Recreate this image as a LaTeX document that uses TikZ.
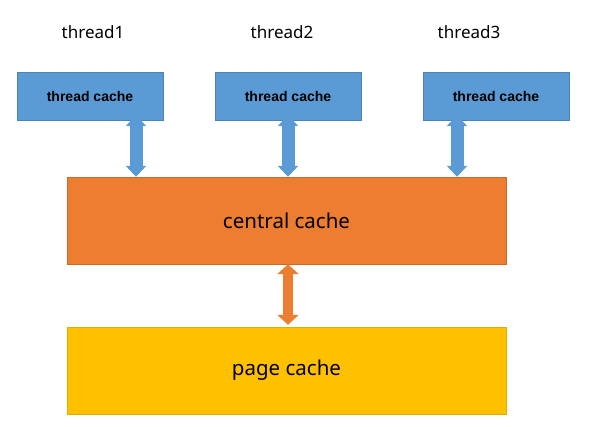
\documentclass[tikz,border=0pt]{standalone}
\usepackage{fontspec}
\setmainfont{Noto Sans}
\newfontfamily\boxfont{Liberation Sans}
\usetikzlibrary{arrows.meta}
\definecolor{tcblue}{HTML}{5B9BD5}
\definecolor{ccorange}{HTML}{ED7D31}
\definecolor{pcyellow}{HTML}{FFC000}

\begin{document}
\begin{tikzpicture}[x=1pt, y=-1pt,
    tcbox/.style={fill=tcblue, draw=tcblue!85!black, line width=0.4pt,
      minimum width=146pt, minimum height=48pt, inner sep=0pt,
      font=\boxfont\bfseries\fontsize{14}{16}\selectfont},
    bigbox/.style={line width=0.4pt, minimum width=439pt, minimum height=87pt,
      inner sep=0pt, font=\fontsize{20.5}{24}\selectfont},
    threadlabel/.style={font=\fontsize{17}{20}\selectfont},
    tcarrow/.style={line width=13pt, tcblue,
      {Triangle[width=20pt,length=11pt]}-{Triangle[width=20pt,length=11pt]}},
    ccarrow/.style={line width=10pt, ccorange,
      {Triangle[width=21pt,length=10pt]}-{Triangle[width=21pt,length=10pt]}}]
    \useasboundingbox (0,0) rectangle (597,427);
    \node[threadlabel] (t1) at (93, 32) {thread1};
    \node[threadlabel] (t2) at (282, 32) {thread2};
    \node[threadlabel] (t3) at (469, 32) {thread3};
    \node[tcbox] (tc1) at (90, 96) {thread cache};
    \node[tcbox] (tc2) at (288, 96) {thread cache};
    \node[tcbox] (tc3) at (496, 96) {thread cache};
    \node[bigbox, fill=ccorange, draw=ccorange!85!black] (central) at (286.5, 220.5) {central cache};
    \node[bigbox, fill=pcyellow, draw=pcyellow!90!black] (page) at (286.5, 370.5) {page cache};
    \draw[tcarrow] ([xshift=46pt, yshift=5pt]tc1.south) -- ([xshift=46pt]tc1.south |- central.north);
    \draw[tcarrow] ([yshift=5pt]tc2.south) -- (tc2.south |- central.north);
    \draw[tcarrow] ([xshift=-39pt, yshift=5pt]tc3.south) -- ([xshift=-39pt]tc3.south |- central.north);
    \draw[ccarrow] ([xshift=1.5pt]central.south) -- ([xshift=1.5pt, yshift=2pt]page.north);
\end{tikzpicture}
\end{document}
